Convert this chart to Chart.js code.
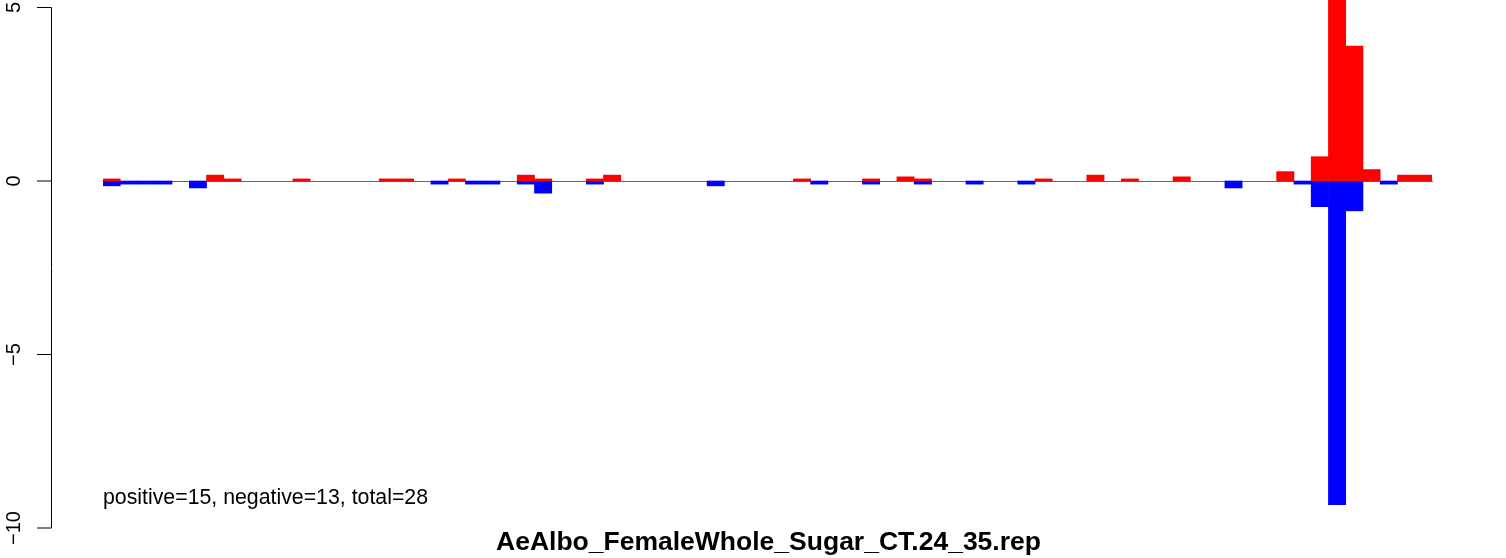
<!DOCTYPE html>
<html>
<head>
<meta charset="utf-8">
<script src="https://cdn.jsdelivr.net/npm/chart.js@4/dist/chart.umd.min.js"></script>
<style>
body { margin:0; background:#fff; }
canvas { display:block; }
</style>
</head>
<body>
<canvas id="myChart" width="1506" height="558"></canvas>
<script>
// bins along the x axis (not labelled in the picture)
var bins = [1,2,3,4,5,6,7,8,9,10,11,12,13,14,15,16,17,18,19,20,
	21,22,23,24,25,26,27,28,29,30,31,32,33,34,35,36,37,38,39,40,
	41,42,43,44,45,46,47,48,49,50,51,52,53,54,55,56,57,58,59,60,
	61,62,63,64,65,66,67,68,69,70,71,72,73,74,75,76,77];

var positiveValues = [0.06,0,0,0,0,0,0.17,0.06,0,0,0,0.06,0,0,0,0,0.06,0.06,0,0,
	0.06,0,0,0,0.17,0.06,0,0,0.06,0.17,0,0,0,0,0,0,0,0,0,0,
	0.06,0,0,0,0.06,0,0.12,0.06,0,0,0,0,0,0,0.06,0,0,0.17,0,0.06,
	0,0,0.12,0,0,0,0,0,0.27,0,0.70,6.2,3.89,0.33,0,0.17,0.17];

var negativeValues = [-0.14,-0.09,-0.09,-0.09,0,-0.2,0,0,0,0,0,0,0,0,0,0,0,0,0,-0.09,
	0,-0.09,-0.09,0,-0.09,-0.35,0,0,-0.09,0,0,0,0,0,0,-0.14,0,0,0,0,
	0,-0.09,0,0,-0.09,0,0,-0.09,0,0,-0.09,0,0,-0.09,0,0,0,0,0,0,
	0,0,0,0,0,-0.2,0,0,0,-0.09,-0.74,-9.33,-0.86,0,-0.09,0,0];

var yTicks = [5, 0, -5, -10];
var summaryText = "positive=15, negative=13, total=28";
var titleText = "AeAlbo_FemaleWhole_Sugar_CT.24_35.rep";

//empty bins are left out so they draw nothing on the zero line
function dropZeros(values)
{
	return values.map(function(v) { return v === 0 ? null : v; });
}

var rStyle = {
	id: 'rStyle',
	beforeDatasetsDraw: function(chart)
	{
		var ctx = chart.ctx;
		var y = chart.scales.y;
		var area = chart.chartArea;
		var y0 = Math.round(y.getPixelForValue(0)) + 0.5;
		ctx.save();
		ctx.strokeStyle = '#666666';
		ctx.lineWidth = 1;
		ctx.beginPath();
		ctx.moveTo(area.left, y0);
		ctx.lineTo(area.right + 1, y0);
		ctx.stroke();
		ctx.restore();
	},
	afterDraw: function(chart)
	{
		var ctx = chart.ctx;
		var y = chart.scales.y;
		var area = chart.chartArea;
		var axisX = 51.5;
		ctx.save();
		ctx.strokeStyle = '#000';
		ctx.lineWidth = 1;

		// axis line from first to last tick, like R
		var top = y.getPixelForValue(yTicks[0]);
		var bottom = y.getPixelForValue(yTicks[yTicks.length - 1]);
		ctx.beginPath();
		ctx.moveTo(axisX, top);
		ctx.lineTo(axisX, bottom);
		ctx.stroke();

		ctx.fillStyle = '#000';
		ctx.font = '20px "Liberation Sans", Arial, sans-serif';
		ctx.textAlign = 'center';
		ctx.textBaseline = 'middle';
		for (var i = 0; i < yTicks.length; i++)
		{
			var py = y.getPixelForValue(yTicks[i]);
			ctx.beginPath();
			ctx.moveTo(37, py);
			ctx.lineTo(axisX, py);
			ctx.stroke();

			ctx.save();
			ctx.translate(14, py);
			ctx.rotate(-Math.PI / 2);
			ctx.fillText(String(yTicks[i]).replace('-', '\u2212'), 0, 0);
			ctx.restore();
		}

		// summary note inside the plot
		ctx.textAlign = 'left';
		ctx.textBaseline = 'alphabetic';
		ctx.font = '21.3px "Liberation Sans", Arial, sans-serif';
		ctx.fillText(summaryText, area.left, 504);

		// title below
		ctx.textAlign = 'center';
		ctx.font = 'bold 26.5px "Liberation Sans", Arial, sans-serif';
		ctx.fillText(titleText, (area.left + area.right) / 2 + 1, 550);
		ctx.restore();
	}
};

var myChart = document.getElementById('myChart').getContext('2d');
var barChart = new Chart(myChart, {
	type: 'bar',
	data: {
		labels: bins,
		datasets: [{
			label: 'positive',
			data: dropZeros(positiveValues),
			backgroundColor: '#FF0000',
			borderWidth: 0,
			barPercentage: 1,
			categoryPercentage: 1
		}, {
			label: 'negative',
			data: dropZeros(negativeValues),
			backgroundColor: '#0000FF',
			borderWidth: 0,
			barPercentage: 1,
			categoryPercentage: 1
		}]
	},
	options: {
		responsive: false,
		animation: false,
		devicePixelRatio: 1,
		layout: { padding: { left: 103, right: 74, top: 0, bottom: 9 } },
		plugins: { legend: { display: false }, tooltip: { enabled: false } },
		scales: {
			x: { display: false, stacked: true, offset: true, grid: { display: false } },
			y: { display: false, stacked: true, min: -10.605, max: 5.216 }
		}
	},
	plugins: [rStyle]
});
</script>
</body>
</html>
